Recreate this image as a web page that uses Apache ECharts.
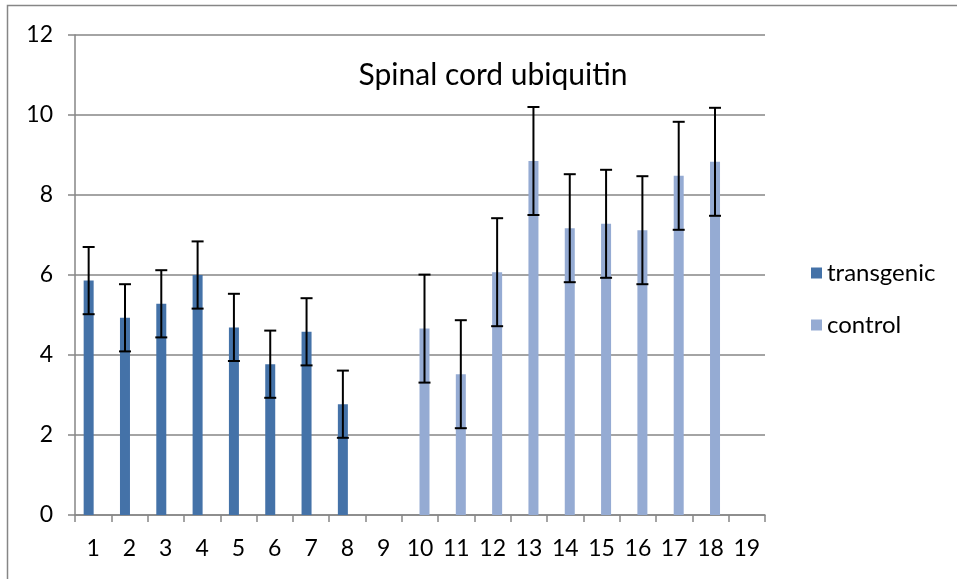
<!DOCTYPE html>
<html>
<head>
<meta charset="utf-8">
<script src="https://cdn.jsdelivr.net/npm/echarts@6/dist/echarts.min.js"></script>
<style>
  html, body { margin: 0; padding: 0; background: #fff; }
  #chart { width: 957px; height: 579px; }
</style>
</head>
<body>
<div id="chart"></div>
<script>
// data
const categories = ['1','2','3','4','5','6','7','8','9','10','11','12','13','14','15','16','17','18','19'];
const transgenic = [5.86, 4.93, 5.28, 6.0, 4.69, 3.77, 4.58, 2.77, null, null, null, null, null, null, null, null, null, null, null];
const control = [null, null, null, null, null, null, null, null, null, 4.66, 3.52, 6.07, 8.85, 7.17, 7.28, 7.12, 8.48, 8.83, null];
const transgenicErr = [0.84, 0.84, 0.84, 0.84, 0.84, 0.84, 0.84, 0.84, null, null, null, null, null, null, null, null, null, null, null];
const controlErr = [null, null, null, null, null, null, null, null, null, 1.35, 1.35, 1.35, 1.35, 1.35, 1.35, 1.35, 1.35, 1.35, null];
const yTicks = [0, 2, 4, 6, 8, 10, 12];

const FONT = 'Lato';
const DARK = '#4472a8';
const LIGHT = '#95abd3';

// error bar data: [categoryIndex, low, high, offsetSign]
const errData = [];
transgenic.forEach((v, i) => {
    if (v != null) errData.push([i, v - transgenicErr[i], v + transgenicErr[i], -1]);
});
control.forEach((v, i) => {
    if (v != null) errData.push([i, v - controlErr[i], v + controlErr[i], 1]);
});

const renderErr = (params, api) => {
    const idx = api.value(0);
    const lo = api.coord([idx, api.value(1)]);
    const hi = api.coord([idx, api.value(2)]);
    const x = lo[0] + api.value(3) * 4.5;
    const cap = 6;
    const style = { stroke: '#000', lineWidth: 2 };
    return {
        type: 'group',
        children: [
            { type: 'line', shape: { x1: x, y1: hi[1], x2: x, y2: lo[1] }, style },
            { type: 'line', shape: { x1: x - cap, y1: hi[1], x2: x + cap, y2: hi[1] }, style },
            { type: 'line', shape: { x1: x - cap, y1: lo[1], x2: x + cap, y2: lo[1] }, style }
        ]
    };
};

const chart = echarts.init(document.getElementById('chart'));
chart.setOption({
    animation: false,
    backgroundColor: '#fff',
    textStyle: { fontFamily: FONT },
    graphic: [
        {
            type: 'rect',
            shape: { x: 7.5, y: 5.5, width: 1000, height: 700 },
            style: { fill: 'none', stroke: '#868686', lineWidth: 1.5 },
            z: -1
        }
    ],
    title: {
        text: 'Spinal cord ubiquitin',
        left: 488,
        top: 55,
        textAlign: 'center',
        textStyle: { fontFamily: FONT, fontSize: 30, fontWeight: 'normal', color: '#000' }
    },
    legend: {
        orient: 'vertical',
        left: 806,
        top: 256,
        itemWidth: 11,
        itemHeight: 11,
        itemGap: 28,
        icon: 'rect',
        textStyle: { fontFamily: FONT, fontSize: 24, color: '#000' },
        data: ['transgenic', 'control']
    },
    grid: { left: 75, right: 192, top: 35, bottom: 64, containLabel: false },
    xAxis: {
        type: 'category',
        data: categories,
        boundaryGap: true,
        axisLine: { lineStyle: { color: '#868686', width: 1.5 } },
        axisTick: { show: true, length: 7, lineStyle: { color: '#868686', width: 1.5 } },
        axisLabel: { color: '#000', fontSize: 23, fontFamily: FONT, margin: 22, interval: 0 },
        splitLine: { show: false }
    },
    yAxis: {
        type: 'value',
        min: yTicks[0],
        max: yTicks[yTicks.length - 1],
        interval: 2,
        axisLine: { show: true, lineStyle: { color: '#868686', width: 1.5 } },
        axisTick: { show: true, length: 7, inside: false, lineStyle: { color: '#868686', width: 1.5 } },
        axisLabel: { color: '#000', fontSize: 23, fontFamily: FONT, margin: 22 },
        splitLine: { show: true, lineStyle: { color: '#868686', width: 1.5 } }
    },
    series: [
        {
            name: 'transgenic',
            type: 'bar',
            data: transgenic,
            barWidth: 10,
            barGap: '-10%',
            itemStyle: { color: DARK }
        },
        {
            name: 'control',
            type: 'bar',
            data: control,
            barWidth: 10,
            barGap: '-10%',
            itemStyle: { color: LIGHT }
        },
        {
            name: 'errors',
            type: 'custom',
            renderItem: renderErr,
            data: errData,
            encode: { x: 0, y: [1, 2] },
            z: 10,
            silent: true
        }
    ]
});
</script>
</body>
</html>
